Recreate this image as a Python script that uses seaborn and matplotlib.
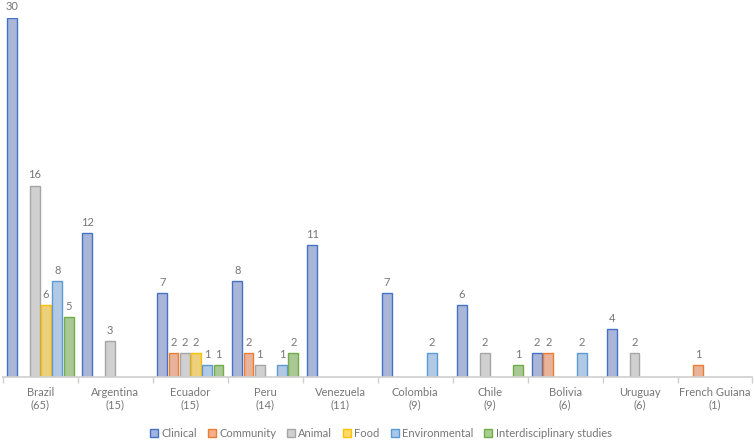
import pandas as pd
import matplotlib
matplotlib.use("Agg")
import matplotlib.pyplot as plt
from matplotlib.patches import Patch
import seaborn as sns

# Studies per country, split by study type
countries = ["Brazil", "Argentina", "Ecuador", "Peru", "Venezuela",
             "Colombia", "Chile", "Bolivia", "Uruguay", "French Guiana"]
totals = [65, 15, 15, 14, 11, 9, 9, 6, 6, 1]
categories = ["Clinical", "Community", "Animal", "Food", "Environmental",
              "Interdisciplinary studies"]

clinical = [30, 12, 7, 8, 11, 7, 6, 2, 4, 0]
community = [0, 0, 2, 2, 0, 0, 0, 2, 0, 1]
animal = [16, 3, 2, 1, 0, 0, 2, 0, 2, 0]
food = [6, 0, 2, 0, 0, 0, 0, 0, 0, 0]
environmental = [8, 0, 1, 1, 0, 2, 0, 2, 0, 0]
interdisciplinary = [5, 0, 1, 2, 0, 0, 1, 0, 0, 0]

fills = ["#a2b3e0", "#f5ae8e", "#d0d0d0", "#ffd96a", "#a9c9ec", "#a8cf8e"]
edges = ["#4472c4", "#ed7d31", "#a5a5a5", "#ffc000", "#5b9bd5", "#70ad47"]
text_grey = "#767676"

sns.set_theme(style="white")
plt.rcParams["font.family"] = ["Lato", "DejaVu Sans"]

labels = [f"{c}\n({t})" for c, t in zip(countries, totals)]
series = [clinical, community, animal, food, environmental, interdisciplinary]
rows = []
for cat, vals in zip(categories, series):
    for lab, v in zip(labels, vals):
        if v > 0:
            rows.append({"country": lab, "type": cat, "n": v})
df = pd.DataFrame(rows)

fig = plt.figure(figsize=(7.54, 4.40), dpi=100)
ax = fig.add_axes([0.004, 0.143, 0.994, 0.816])

sns.barplot(data=df, x="country", y="n", hue="type", order=labels,
            hue_order=categories, palette=fills, width=0.9, gap=0.12,
            legend=False, ax=ax)

for cont, ec in zip(ax.containers, edges):
    for p in cont:
        p.set_edgecolor(ec)
        p.set_linewidth(1.0)
    ax.bar_label(cont, padding=4, fontsize=8, color=text_grey)

ax.set_ylim(0, 30)
ax.set_xlim(-0.5, len(countries) - 0.5)
ax.set_xlabel("")
ax.set_ylabel("")
ax.set_yticks([])
for s in ["top", "right", "left"]:
    ax.spines[s].set_visible(False)
ax.spines["bottom"].set_color("#d0d0d0")
ax.tick_params(axis="x", which="major", length=0, pad=7, labelsize=8,
               labelcolor=text_grey)
ax.set_xticks([i - 0.5 for i in range(len(countries) + 1)], minor=True)
ax.tick_params(axis="x", which="minor", length=4, color="#d0d0d0",
               bottom=True, direction="out")
for t in ax.texts:
    t.set_clip_on(False)

handles = [Patch(facecolor=f, edgecolor=e, label=c)
           for f, e, c in zip(fills, edges, categories)]
leg = fig.legend(handles=handles, loc="lower center", ncol=6, frameon=False,
                 fontsize=8, bbox_to_anchor=(0.505, -0.02), handlelength=0.7,
                 handleheight=0.7, handletextpad=0.3, columnspacing=1.0)
for t in leg.get_texts():
    t.set_color(text_grey)

fig.savefig("out.png", dpi=100)
